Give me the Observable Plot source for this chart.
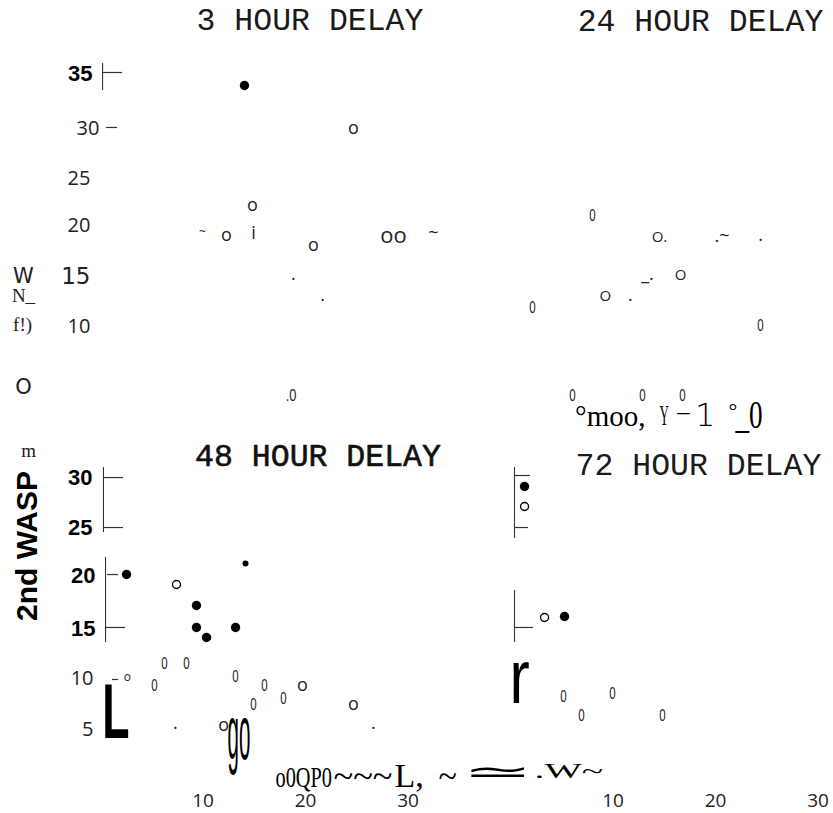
<!DOCTYPE html>
<html>
<head>
<meta charset="utf-8">
<script src="https://cdn.jsdelivr.net/npm/d3@7"></script>
<script src="https://cdn.jsdelivr.net/npm/@observablehq/plot@0.6"></script>
<style>
  html, body { margin: 0; padding: 0; background: #fff; }
  #chart svg { display: block; }
</style>
</head>
<body>
<div id="chart"></div>
<script>
// ---- data (x = 1st wasp axis units, y = 2nd wasp axis units, per panel) ----
const cols = ["left", "right"];
const rows = ["top", "bottom"];
const xTicks = [10, 20, 30];

const titles = [
  {col: "left",  row: "top",    x: 20.43, y: 40.2,  label: "3 HOUR DELAY"},
  {col: "right", row: "top",    x: 18.53, y: 40.1,  label: "24 HOUR DELAY"},
  {col: "left",  row: "bottom", x: 21.21, y: 31.9,  label: "48 HOUR DELAY"},
  {col: "right", row: "bottom", x: 18.33, y: 31.08, label: "72 HOUR DELAY"}
];

const filledWasps = [
  {col: "left",  row: "top",    x: 14.04, y: 33.73},
  {col: "left",  row: "bottom", x: 2.54,  y: 20.29},
  {col: "left",  row: "bottom", x: 9.36,  y: 17.25},
  {col: "left",  row: "bottom", x: 9.36,  y: 15.10},
  {col: "left",  row: "bottom", x: 10.34, y: 14.12},
  {col: "left",  row: "bottom", x: 13.17, y: 15.10},
  {col: "right", row: "bottom", x: 1.37,  y: 28.92},
  {col: "right", row: "bottom", x: 5.27,  y: 16.18}
];
const openWasps = [
  {col: "left",  row: "bottom", x: 7.41, y: 19.31},
  {col: "right", row: "bottom", x: 1.37, y: 26.96},
  {col: "right", row: "bottom", x: 3.32, y: 16.08}
];
const clippedWasps = [
  {col: "left", row: "bottom", x: 14.14, y: 21.37}
];

const axisStems = [
  {col: "left",  row: "top",    x: 0.2,  y1: 35.88, y2: 33.24},
  {col: "left",  row: "bottom", x: 0.29, y1: 30.78, y2: 24.41},
  {col: "left",  row: "bottom", x: 0.49, y1: 21.96, y2: 13.63},
  {col: "right", row: "bottom", x: 0.39, y1: 30.78, y2: 23.82},
  {col: "right", row: "bottom", x: 0.39, y1: 18.73, y2: 13.63}
];
const axisTicks = [
  {col: "left",  row: "top",    y: 35.0,  x1: 0.2,  x2: 2.15},
  {col: "left",  row: "top",    y: 29.61, x1: 0.59, x2: 1.66},
  {col: "left",  row: "bottom", y: 29.8,  x1: 0.29, x2: 2.24},
  {col: "left",  row: "bottom", y: 24.9,  x1: 0.29, x2: 2.24},
  {col: "left",  row: "bottom", y: 20.29, x1: 0.68, x2: 1.76},
  {col: "left",  row: "bottom", y: 15.1,  x1: 0.59, x2: 2.44},
  {col: "left",  row: "bottom", y: 10.0,  x1: 1.17, x2: 1.76},
  {col: "right", row: "bottom", y: 30.0,  x1: 0.39, x2: 1.95},
  {col: "right", row: "bottom", y: 24.9,  x1: 0.39, x2: 1.76},
  {col: "right", row: "bottom", y: 15.1,  x1: 0.39, x2: 2.24}
];

const boldTickLabels = [
  {col: "left", row: "top",    x: -0.78, y: 34.9, label: "35"},
  {col: "left", row: "bottom", x: -0.78, y: 29.8, label: "30"},
  {col: "left", row: "bottom", x: -0.78, y: 24.9, label: "25"},
  {col: "left", row: "bottom", x: -0.49, y: 20.2, label: "20"},
  {col: "left", row: "bottom", x: -0.49, y: 15.0, label: "15"}
];
const thinTickLabels = [
  {col: "left", row: "top",    x: -0.1,  y: 29.5, label: "30"},
  {col: "left", row: "top",    x: -0.98, y: 24.6, label: "25"},
  {col: "left", row: "top",    x: -0.98, y: 20.0, label: "20"},
  {col: "left", row: "top",    x: -0.98, y: 10.1, label: "10"},
  {col: "left", row: "bottom", x: -0.68, y: 10.1, label: "10"},
  {col: "left", row: "bottom", x: -0.68, y: 5.1,  label: "5"}
];
const wideTickLabels = [
  {col: "left", row: "top", x: -0.98, y: 15.0, label: "15"}
];
const sideLetters = [
  {col: "left", row: "top", x: -7.51, y: 15.0, label: "W"},
  {col: "left", row: "top", x: -7.51, y: 4.12, label: "O"}
];
const sideSerif = [
  {col: "left", row: "top",    x: -7.51, y: 13.14, label: "N_"},
  {col: "left", row: "top",    x: -7.6,  y: 10.29, label: "f!)"},
  {col: "left", row: "bottom", x: -7.02, y: 32.45, label: "m"}
];
const axisTitle = [
  {col: "left", row: "bottom", x: -7.12, y: 23.09, label: "2nd WASP"}
];

const ocrLower = [
  {col: "left", row: "top",    x: 24.67, y: 29.51, label: "o"},
  {col: "left", row: "top",    x: 14.82, y: 21.96, label: "o"},
  {col: "left", row: "top",    x: 12.29, y: 19.02, label: "o"},
  {col: "left", row: "top",    x: 14.92, y: 19.22, label: "i"},
  {col: "left", row: "top",    x: 20.77, y: 18.04, label: "o"},
  {col: "left", row: "bottom", x: 19.7,  y: 9.41,  label: "o"},
  {col: "left", row: "bottom", x: 24.67, y: 7.55,  label: "o"},
  {col: "left", row: "bottom", x: 12.0,  y: 5.49,  label: "o"}
];
const ocrLowerLarge = [
  {col: "left", row: "top", x: 28.57, y: 19.02, label: "oo"}
];
const ocrUpper = [
  {col: "right", row: "top", x: 14.53, y: 18.9,  label: "O."},
  {col: "right", row: "top", x: 16.58, y: 15.1,  label: "O"},
  {col: "right", row: "top", x: 9.26,  y: 13.04, label: "O"}
];
const ocrZeros = [
  {col: "left",  row: "top",    x: 18.58, y: 3.33,  label: ".0"},
  {col: "right", row: "top",    x: 8.0,   y: 20.98, label: "0"},
  {col: "right", row: "top",    x: 2.15,  y: 11.96, label: "0"},
  {col: "right", row: "top",    x: 24.38, y: 10.2,  label: "0"},
  {col: "right", row: "top",    x: 6.05,  y: 3.33,  label: "0"},
  {col: "right", row: "top",    x: 12.87, y: 3.33,  label: "0"},
  {col: "right", row: "top",    x: 16.77, y: 3.33,  label: "0"},
  {col: "left",  row: "bottom", x: 6.24,  y: 11.57, label: "0"},
  {col: "left",  row: "bottom", x: 8.39,  y: 11.57, label: "0"},
  {col: "left",  row: "bottom", x: 5.27,  y: 9.41,  label: "0"},
  {col: "left",  row: "bottom", x: 13.17, y: 10.29, label: "0"},
  {col: "left",  row: "bottom", x: 15.99, y: 9.41,  label: "0"},
  {col: "left",  row: "bottom", x: 14.92, y: 7.55,  label: "0"},
  {col: "left",  row: "bottom", x: 17.85, y: 8.14,  label: "0"},
  {col: "right", row: "bottom", x: 5.17,  y: 8.33,  label: "0"},
  {col: "right", row: "bottom", x: 6.92,  y: 6.47,  label: "0"},
  {col: "right", row: "bottom", x: 9.95,  y: 8.63,  label: "0"},
  {col: "right", row: "bottom", x: 14.82, y: 6.47,  label: "0"}
];
const ocrMarks = [
  {col: "left",  row: "top",    x: 18.82, y: 15.2,  label: "."},
  {col: "left",  row: "top",    x: 21.65, y: 13.14, label: "."},
  {col: "left",  row: "top",    x: 32.47, y: 19.22, label: "~"},
  {col: "right", row: "top",    x: 20.63, y: 18.9,  label: ".~"},
  {col: "right", row: "top",    x: 24.38, y: 19.0,  label: "."},
  {col: "right", row: "top",    x: 13.36, y: 15.2,  label: "_."},
  {col: "right", row: "top",    x: 11.7,  y: 13.14, label: "."},
  {col: "left",  row: "bottom", x: 7.31,  y: 5.69,  label: "."},
  {col: "left",  row: "bottom", x: 26.62, y: 5.69,  label: "."}
];
const ocrTiny = [
  {col: "left", row: "top",    x: 9.95, y: 19.31, label: "~"},
  {col: "left", row: "bottom", x: 2.63, y: 10.2,  label: "o"}
];

const bigBold = [
  {col: "left", row: "bottom", x: 0.17, y: 6.72, label: "L"}
];
const bigRegular = [
  {col: "right", row: "bottom", x: -0.1,  y: 10.13, label: "r"},
  {col: "left",  row: "bottom", x: 12.39, y: 4.55,  label: "go"}
];

const scanSerifMid = [
  {col: "right", row: "top",    x: 6.3,   y: 1.27, label: "°moo,"},
  {col: "right", row: "top",    x: 14.53, y: 1.37, label: "Y"},
  {col: "left",  row: "bottom", x: 17.07, y: 0.35, label: "o0QP0"}
];
const scanSerifLarge = [
  {col: "left", row: "bottom", x: 22.72, y: 0.49, label: "~~~"},
  {col: "left", row: "bottom", x: 28.67, y: 0.54, label: "L,"},
  {col: "left", row: "bottom", x: 32.96, y: 0.49, label: "~"}
];
const scanSerifSmall = [
  {col: "left",  row: "bottom", x: 42.33, y: 1.08, label: ".W~"},
  {col: "right", row: "top",    x: 21.26, y: 1.86, label: "°"}
];
const scanSerifXL = [
  {col: "right", row: "top", x: 21.94, y: 1.37, label: "_0"}
];
const scanSansLarge = [
  {col: "right", row: "top", x: 16.09, y: 1.76, label: "–"},
  {col: "right", row: "top", x: 18.0,  y: 1.37, label: "1"}
];
const scanSymbols = [
  {col: "left", row: "bottom", x: 35.31, y: 0.88, label: "≃"}
];

// ---- styling ----
const MONO = "'Liberation Mono', 'Courier New', monospace";
const SANS = "'Liberation Sans', Arial, sans-serif";
const OPEN = "'Open Sans', sans-serif";
const DEJA = "'DejaVu Sans', sans-serif";
const SERIF = "'Liberation Serif', 'Times New Roman', serif";
const pos = {x: "x", y: "y", fx: "col", fy: "row", text: "label", fill: "black"};

const chart = Plot.plot({
  width: 833,
  height: 813,
  marginLeft: 100,
  marginRight: 0,
  marginTop: 92.4,
  marginBottom: 32,
  style: {fontFamily: OPEN, fontSize: "19px", color: "#222", background: "#fff", overflow: "visible"},
  fx: {domain: cols, axis: null, paddingInner: 0.2122, paddingOuter: 0, round: false},
  fy: {domain: rows, axis: null, paddingInner: 0.04375, paddingOuter: 0, round: false},
  x: {domain: [0, 31.5], ticks: xTicks, tickSize: 0, tickPadding: 12, label: null},
  y: {domain: [0, 33], axis: null},
  marks: [
    Plot.text(titles.filter(d => !d.label.startsWith("48")), {...pos, fontFamily: MONO, fontSize: 31.5, fill: "#1a1a1a"}),
    Plot.text(titles.filter(d => d.label.startsWith("48")), {...pos, fontFamily: MONO, fontSize: 31.5, fill: "#111", stroke: "#111", strokeWidth: 0.6}),

    Plot.ruleX(axisStems, {x: "x", y1: "y1", y2: "y2", fx: "col", fy: "row", stroke: "#333", strokeWidth: 1.1}),
    Plot.ruleY(axisTicks, {y: "y", x1: "x1", x2: "x2", fx: "col", fy: "row", stroke: "#333", strokeWidth: 1.2}),

    Plot.dot(filledWasps, {x: "x", y: "y", fx: "col", fy: "row", r: 4.7, fill: "black"}),
    Plot.dot(openWasps, {x: "x", y: "y", fx: "col", fy: "row", r: 4, fill: "white", stroke: "black", strokeWidth: 1.4}),
    Plot.dot(clippedWasps, {x: "x", y: "y", fx: "col", fy: "row", r: 3, fill: "black"}),

    Plot.text(boldTickLabels, {...pos, textAnchor: "end", fontFamily: SANS, fontWeight: "bold", fontSize: 22}),
    Plot.text(thinTickLabels, {...pos, textAnchor: "end", fontFamily: OPEN, fontSize: 20, fill: "#222"}),
    Plot.text(wideTickLabels, {...pos, textAnchor: "end", fontFamily: DEJA, fontSize: 23, fill: "#222"}),
    Plot.text(sideLetters, {...pos, fontFamily: DEJA, fontSize: 21, fill: "#222"}),
    Plot.text(sideSerif, {...pos, fontFamily: SERIF, fontSize: 19, fill: "#222"}),
    Plot.text(axisTitle, {...pos, rotate: -90, fontFamily: SANS, fontWeight: "bold", fontSize: 30}),

    Plot.text(ocrLower, {...pos, fontFamily: OPEN, fontSize: 18, fill: "#222"}),
    Plot.text(ocrLowerLarge, {...pos, fontFamily: OPEN, fontSize: 22, fill: "#222"}),
    Plot.text(ocrUpper, {...pos, fontFamily: OPEN, fontSize: 15, fill: "#222"}),
    Plot.text(ocrZeros, {...pos, fontFamily: SANS, fontSize: 16, fill: "#222"}),
    Plot.text(ocrMarks, {...pos, fontFamily: OPEN, fontSize: 18, fill: "#222"}),
    Plot.text(ocrTiny, {...pos, fontFamily: OPEN, fontSize: 12, fill: "#222"}),

    Plot.text(bigBold, {...pos, textAnchor: "start", fontFamily: SANS, fontWeight: "bold", fontSize: 77}),
    Plot.text(bigRegular, {...pos, textAnchor: "start", fontFamily: SANS, fontSize: 76}),

    Plot.text(scanSerifMid, {...pos, textAnchor: "start", fontFamily: SERIF, fontSize: 29}),
    Plot.text(scanSerifLarge, {...pos, textAnchor: "start", fontFamily: SERIF, fontSize: 34}),
    Plot.text(scanSerifSmall, {...pos, textAnchor: "start", fontFamily: SERIF, fontSize: 22}),
    Plot.text(scanSerifXL, {...pos, textAnchor: "start", fontFamily: SERIF, fontSize: 40}),
    Plot.text(scanSansLarge, {...pos, textAnchor: "start", fontFamily: DEJA, fontWeight: 200, fontSize: 32}),
    Plot.text(scanSymbols, {...pos, textAnchor: "start", fontFamily: DEJA, fontSize: 30})
  ]
});

document.getElementById("chart").append(chart);

// horizontal squeeze / stretch of the scanned glyphs (style only)
const squeeze = {"0": 0.72, ".0": 0.8, "L": 0.58, "r": 0.8, "go": 0.27, "o0QP0": 0.7,
  "~~~": 1.07, "≃": 2.8, ".W~": 1.8, "Y": 0.45, "_0": 0.68};
chart.querySelectorAll("text").forEach(t => {
  const f = squeeze[t.textContent];
  if (f && t.getComputedTextLength) {
    const len = t.getComputedTextLength();
    if (len > 0) {
      t.setAttribute("textLength", (len * f).toFixed(2));
      t.setAttribute("lengthAdjust", "spacingAndGlyphs");
    }
  }
});
</script>
</body>
</html>
